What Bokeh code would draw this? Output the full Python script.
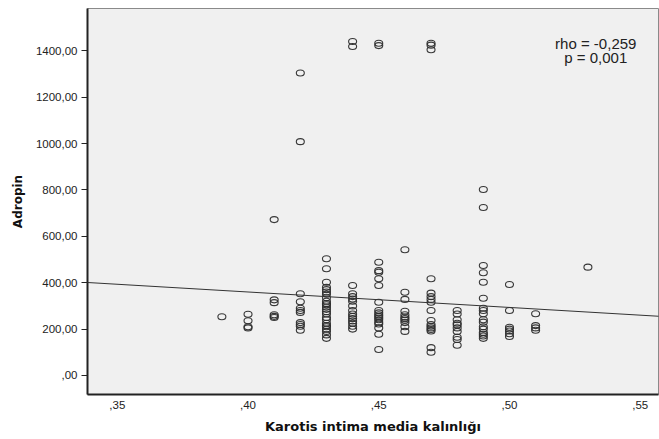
from bokeh.plotting import figure
from bokeh.models import Range1d, FixedTicker, Label, Slope
from bokeh.embed import file_html
from bokeh.resources import INLINE

# ---- data ----
kim_levels = [0.39, 0.40, 0.41, 0.42, 0.43, 0.44, 0.45, 0.46, 0.47, 0.48, 0.49, 0.50, 0.51, 0.53]

adropin_039 = [253]
adropin_040 = [264, 236, 210, 205]
adropin_041 = [672, 326, 314, 262, 255, 250]
adropin_042 = [1304, 1008, 352, 318, 290, 280, 272, 228, 220, 212, 195]
adropin_043 = [503, 460, 402, 380, 370, 360, 350, 335, 320, 310, 305, 295, 285,
               275, 265, 250, 240, 225, 215, 210, 200, 190, 175, 160]
adropin_044 = [1440, 1418, 388, 352, 340, 330, 320, 300, 280, 265, 255, 245, 235,
               225, 212, 200]
adropin_045 = [1432, 1422, 488, 452, 445, 417, 388, 316, 280, 270, 262, 255, 248,
               240, 230, 222, 205, 178, 112]
adropin_046 = [542, 359, 328, 277, 262, 252, 245, 238, 228, 210, 190]
adropin_047 = [1432, 1424, 1404, 417, 355, 340, 328, 316, 280, 237, 220, 212, 205,
               198, 192, 120, 100]
adropin_048 = [280, 265, 240, 225, 218, 205, 190, 165, 155, 130]
adropin_049 = [802, 724, 474, 443, 402, 333, 290, 280, 266, 240, 230, 210, 200,
               185, 178, 170, 160]
adropin_050 = [392, 280, 208, 200, 192, 180, 168]
adropin_051 = [266, 215, 205, 195]
adropin_053 = [467]

groups = [adropin_039, adropin_040, adropin_041, adropin_042, adropin_043,
          adropin_044, adropin_045, adropin_046, adropin_047, adropin_048,
          adropin_049, adropin_050, adropin_051, adropin_053]

# linear fit line
fit_slope = -666.0
fit_intercept = 626.3

# ticks and labels
x_ticks = [0.35, 0.40, 0.45, 0.50, 0.55]
x_tick_labels = [",35", ",40", ",45", ",50", ",55"]
y_ticks = [0, 200, 400, 600, 800, 1000, 1200, 1400]
y_tick_labels = [",00", "200,00", "400,00", "600,00", "800,00", "1000,00", "1200,00", "1400,00"]

stat_lines = ["rho = -0,259", "p = 0,001"]

xs, ys = [], []
for lvl, vals in zip(kim_levels, groups):
    for v in vals:
        xs.append(lvl)
        ys.append(v)

p = figure(width=659, height=439, output_backend="svg", toolbar_location=None,
           x_range=Range1d(0.3386, 0.5570), y_range=Range1d(-82, 1582),
           min_border_left=87, min_border_right=1, min_border_top=8, min_border_bottom=45)

p.background_fill_color = "#f0f0f0"
p.border_fill_color = "white"
p.outline_line_color = "#8a8a8a"
p.outline_line_width = 1
p.xgrid.visible = False
p.ygrid.visible = False

p.ellipse(x=xs, y=ys, width=8, height=6, width_units="screen", height_units="screen",
          fill_color=None, line_color="#2e2e2e", line_width=1.1, line_alpha=0.95)

p.add_layout(Slope(gradient=fit_slope, y_intercept=fit_intercept,
                   line_color="#333333", line_width=1))

for i, t in enumerate(stat_lines):
    p.add_layout(Label(x=0.533, y=1431 - i * 60, text=t, text_align="center",
                       text_baseline="middle", text_font="Liberation Sans",
                       text_font_size="15px", text_color="#222222"))

# axes
xa = p.xaxis[0]
xa.ticker = FixedTicker(ticks=x_ticks)
xa.major_label_overrides = dict(zip(x_ticks, x_tick_labels))
xa.major_tick_out = 0
xa.major_tick_in = 0
xa.minor_tick_out = 0
xa.minor_tick_in = 0
xa.major_label_standoff = 6
xa.major_label_text_font = "Liberation Sans"
xa.major_label_text_font_size = "11.5px"
xa.major_label_text_color = "#222222"
xa.axis_line_color = "#222222"
xa.axis_line_width = 2
xa.axis_label = "Karotis intima media kalınlığı"
xa.axis_label_text_font = "DejaVu Sans"
xa.axis_label_text_font_style = "bold"
xa.axis_label_text_font_size = "13px"
xa.axis_label_text_color = "#111111"
xa.axis_label_standoff = 7

ya = p.yaxis[0]
ya.ticker = FixedTicker(ticks=y_ticks)
ya.major_label_overrides = dict(zip(y_ticks, y_tick_labels))
ya.major_tick_out = 6
ya.major_tick_in = 0
ya.minor_tick_out = 0
ya.minor_tick_in = 0
ya.major_tick_line_color = "#222222"
ya.major_label_standoff = 4
ya.major_label_text_font = "Liberation Sans"
ya.major_label_text_font_size = "11.5px"
ya.major_label_text_color = "#222222"
ya.axis_line_color = "#222222"
ya.axis_line_width = 2
ya.axis_label = "Adropin"
ya.axis_label_text_font = "DejaVu Sans"
ya.axis_label_text_font_style = "bold"
ya.axis_label_text_font_size = "12px"
ya.axis_label_text_color = "#111111"
ya.axis_label_standoff = 8

open("out.html", "w").write(file_html(p, INLINE))
